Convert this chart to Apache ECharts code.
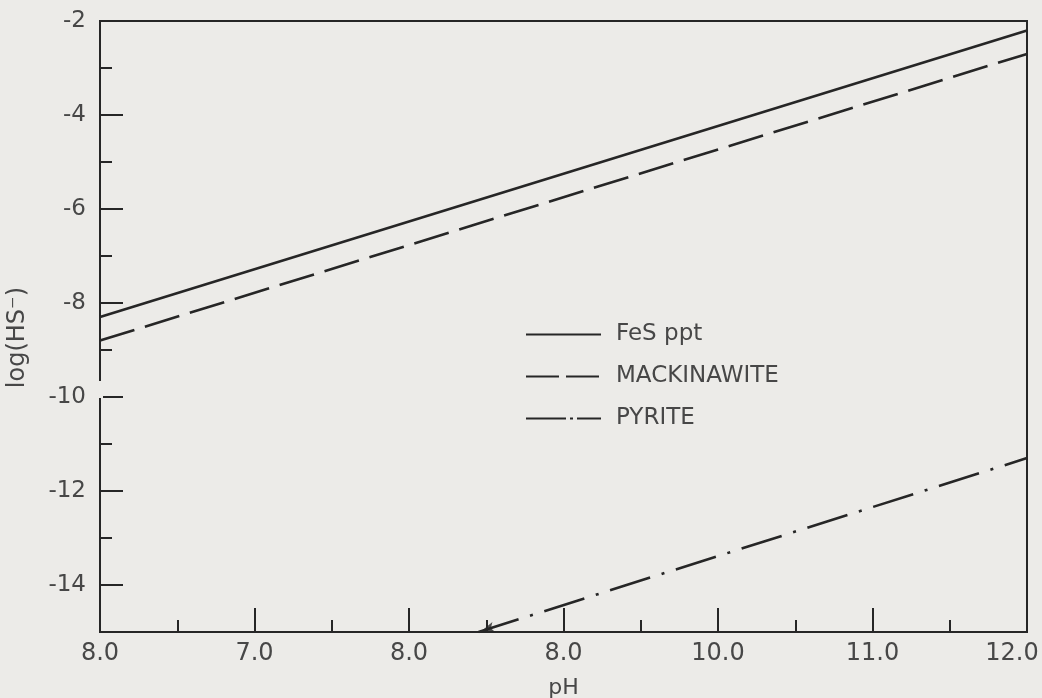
<!DOCTYPE html>
<html>
<head>
<meta charset="utf-8">
<script src="https://cdn.jsdelivr.net/npm/echarts@6/dist/echarts.min.js"></script>
<style>
html,body{margin:0;padding:0;background:#ecebe8;}
#chart{width:1042px;height:698px;}
</style>
</head>
<body>
<div id="chart"></div>
<script>
// ---- data ----
const xTickValues = [6, 7, 8, 9, 10, 11, 12];
const xTickLabels = ["8.0", "7.0", "8.0", "8.0", "10.0", "11.0", "12.0"];
const xMinorTicks = [6.5, 7.5, 8.5, 9.5, 10.5, 11.5];
const yTickValues = [-2, -4, -6, -8, -10, -12, -14];
const yMinorTicks = [-3, -5, -7, -9, -11, -13];
const seriesNames = ["FeS ppt", "MACKINAWITE", "PYRITE"];
const fesPH = [6, 12];
const fesLogHS = [-8.3, -2.2];
const mackPH = [6, 12];
const mackLogHS = [-8.8, -2.7];
const pyritePH = [8.45, 12];
const pyriteLogHS = [-15, -11.3];

const ink = '#262626';
const textCol = '#474747';
const font = '"DejaVu Sans", sans-serif';
const bg = '#ecebe8';

function pairs(xs, ys) { return xs.map((x, i) => [x, ys[i]]); }

const chart = echarts.init(document.getElementById('chart'));

chart.setOption({
  backgroundColor: bg,
  animation: false,
  grid: {show: true, borderColor: ink, borderWidth: 2, backgroundColor: 'transparent',
    left: 100, right: 15, top: 21, bottom: 66, outerBoundsMode: 'none', containLabel: false},
  legend: {
    orient: 'vertical',
    left: 520,
    top: 318,
    itemWidth: 75,
    itemHeight: 14,
    itemGap: 19,
    itemStyle: {opacity: 0},
    data: [
      {name: seriesNames[0]},
      {name: seriesNames[1], lineStyle: {type: [33, 7]}},
      {name: seriesNames[2], lineStyle: {type: [40, 4, 3, 4]}}
    ],
    textStyle: {fontSize: 23, color: textCol, fontFamily: font, padding: [0, 0, 0, 10]}
  },
  xAxis: [{
    type: 'value', min: 6, max: 12,
    name: 'pH', nameLocation: 'middle', nameGap: 45,
    nameTextStyle: {fontSize: 22, color: textCol, fontFamily: font},
    axisLine: {show: true, lineStyle: {color: ink, width: 2}},
    axisTick: {show: true, inside: true, length: 24, lineStyle: {color: ink, width: 2}, customValues: xTickValues},
    axisLabel: {show: true, fontSize: 24, color: textCol, fontFamily: font, margin: 10,
      customValues: xTickValues,
      formatter: v => {
        const i = xTickValues.indexOf(Math.round(v * 100) / 100);
        if (i < 0) return '';
        return i === xTickValues.length - 1 ? '{last|' + xTickLabels[i] + '}' : xTickLabels[i];
      },
      rich: {last: {fontSize: 24, color: textCol, fontFamily: font, padding: [0, 30, 0, 0]}}},
    splitLine: {show: false}
  }, {
    type: 'value', min: 6, max: 12, position: 'bottom',
    axisLine: {show: false},
    axisTick: {show: true, inside: true, length: 12, lineStyle: {color: ink, width: 2}, customValues: xMinorTicks},
    axisLabel: {show: false},
    splitLine: {show: false}
  }],
  yAxis: [{
    type: 'value', min: -15, max: -2,
    name: 'log(HS\u207B)', nameLocation: 'middle', nameGap: 70, nameRotate: 90,
    nameTextStyle: {fontSize: 24, color: textCol, fontFamily: font, padding: [0, 22, 0, 0]},
    axisLine: {show: true, lineStyle: {color: ink, width: 2}},
    axisTick: {show: true, inside: true, length: 23, lineStyle: {color: ink, width: 2}, customValues: yTickValues},
    axisLabel: {show: true, fontSize: 23, color: textCol, fontFamily: font, margin: 14,
      customValues: yTickValues, formatter: v => String(v)},
    splitLine: {show: false}
  }, {
    type: 'value', min: -15, max: -2, position: 'left',
    axisLine: {show: false},
    axisTick: {show: true, inside: true, length: 12, lineStyle: {color: ink, width: 2}, customValues: yMinorTicks},
    axisLabel: {show: false},
    splitLine: {show: false}
  }],
  series: [{
    name: seriesNames[0], type: 'line', symbol: 'none',
    data: pairs(fesPH, fesLogHS),
    lineStyle: {color: ink, width: 2.6, type: 'solid'},
    itemStyle: {color: ink}
  }, {
    name: seriesNames[1], type: 'line', symbol: 'none',
    data: pairs(mackPH, mackLogHS),
    lineStyle: {color: ink, width: 2.6, type: [36, 11]},
    itemStyle: {color: ink}
  }, {
    name: seriesNames[2], type: 'line', symbol: 'none',
    data: pairs(pyritePH, pyriteLogHS),
    lineStyle: {color: ink, width: 2.6, type: [42, 12, 3, 12]},
    itemStyle: {color: ink}
  }, {
    name: 'pyrite-arrow', type: 'scatter',
    data: [[pyritePH[0], pyriteLogHS[0]]],
    symbol: 'arrow', symbolSize: [8, 13], symbolRotate: 107,
    symbolOffset: [3, -1],
    itemStyle: {color: ink},
    silent: true, z: 5
  }],
  graphic: [{
    type: 'rect', shape: {x: 97, y: 381, width: 6, height: 17},
    style: {fill: bg}, z: 100, silent: true
  }]
});
</script>
</body>
</html>
